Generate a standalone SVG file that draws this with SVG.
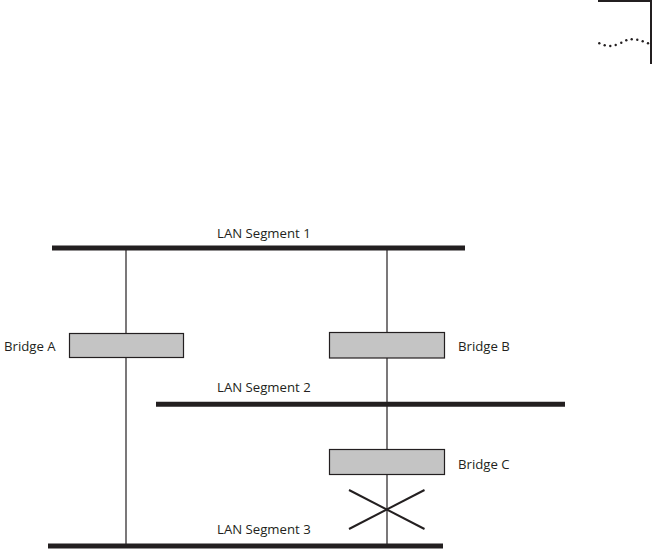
<svg xmlns="http://www.w3.org/2000/svg" width="653" height="550" viewBox="0 0 653 550">
<style>
text{font-family:"Open Sans","Liberation Sans",sans-serif;font-size:13.2px;fill:#231f20}
.seg{stroke:#231f20;stroke-width:5}
.wire{stroke:#231f20;stroke-width:1.2;fill:none}
.bridge{fill:#c4c4c4;stroke:#231f20;stroke-width:1.2}
.dot{fill:#231f20}
</style>
<rect width="653" height="550" fill="#fff"/>
<g id="corner">
<path d="M598 1 H651 V64" fill="none" stroke="#231f20" stroke-width="2"/>
<g class="dot">
<circle cx="599.3" cy="43.3" r="1.2"/><circle cx="604.7" cy="45.3" r="1.2"/><circle cx="610.3" cy="46" r="1.2"/><circle cx="615.7" cy="45" r="1.2"/><circle cx="621.3" cy="42.7" r="1.2"/><circle cx="626.3" cy="40.3" r="1.2"/><circle cx="631.7" cy="39.3" r="1.2"/><circle cx="637.3" cy="39.7" r="1.2"/><circle cx="642.7" cy="41.3" r="1.2"/><circle cx="648" cy="43.3" r="1.2"/>
</g>
</g>
<g id="connectors">
<line class="wire" x1="126" y1="248" x2="126" y2="546"/>
<line class="wire" x1="387" y1="248" x2="387" y2="546"/>
<line x1="349" y1="490" x2="424.5" y2="529" stroke="#231f20" stroke-width="2"/>
<line x1="349" y1="529" x2="424.5" y2="490" stroke="#231f20" stroke-width="2"/>
</g>
<g id="seg1">
<line class="seg" x1="52" y1="248" x2="465" y2="248"/>
<text x="217" y="238">LAN Segment 1</text>
</g>
<g id="seg2">
<line class="seg" x1="156" y1="404.3" x2="565" y2="404.3" stroke-width="4"/>
<text x="217" y="391.5">LAN Segment 2</text>
</g>
<g id="seg3">
<line class="seg" x1="48" y1="546" x2="443" y2="546"/>
<text x="217" y="534">LAN Segment 3</text>
</g>
<g id="bridgeA">
<rect class="bridge" x="69.5" y="333.5" width="114" height="24"/>
<text x="4" y="351">Bridge A</text>
</g>
<g id="bridgeB">
<rect class="bridge" x="329.5" y="332.5" width="115" height="25.5"/>
<text x="458" y="351">Bridge B</text>
</g>
<g id="bridgeC">
<rect class="bridge" x="329.5" y="449.5" width="115" height="25"/>
<text x="458" y="469">Bridge C</text>
</g>
</svg>
